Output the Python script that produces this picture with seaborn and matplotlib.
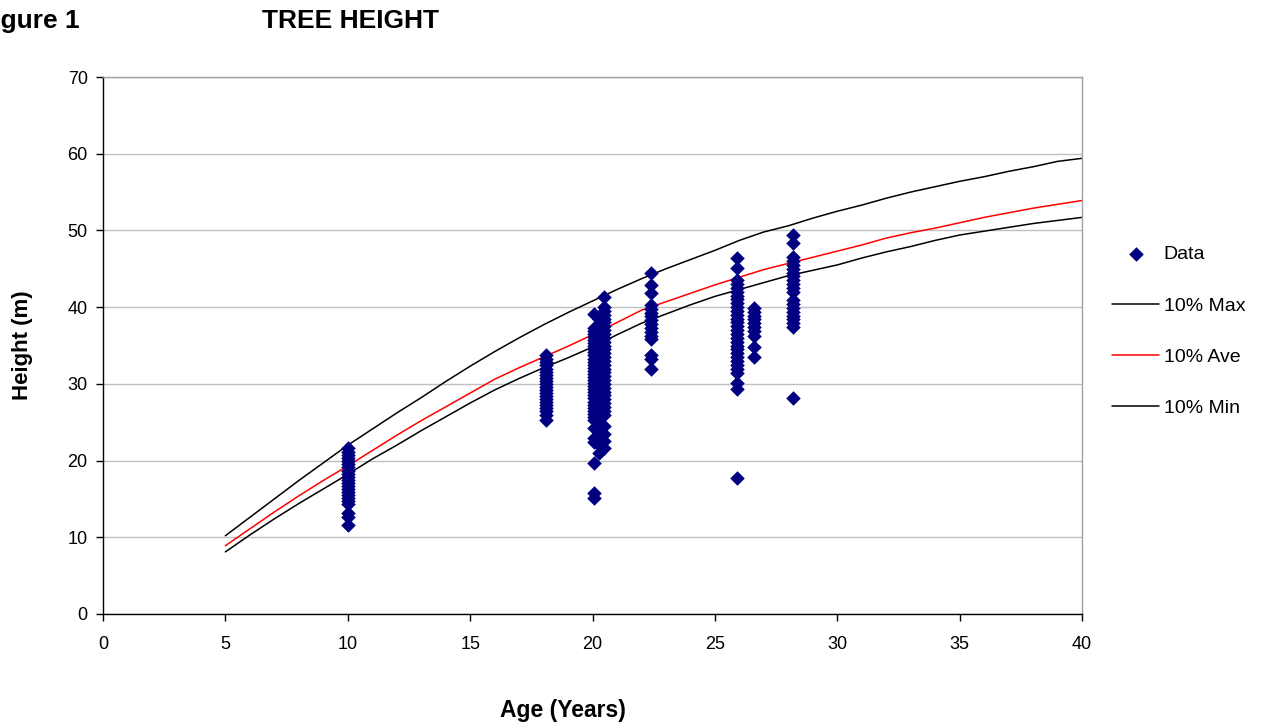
import pandas as pd
import matplotlib
matplotlib.use("Agg")
import matplotlib.pyplot as plt
import seaborn as sns

# ---- data ----
h_age10 = [21.6, 21.1, 20.7, 20.3, 19.9, 19.5, 19.1, 18.7, 18.3, 17.9, 17.5, 17.1,
           16.7, 16.3, 15.9, 15.5, 15.1, 14.7, 14.3, 13.2, 12.6, 11.6]
h_age18 = [33.8, 33.3, 32.8, 32.4, 32.0, 31.6, 31.2, 30.8, 30.4, 30.0, 29.6, 29.2,
           28.8, 28.4, 28.0, 27.6, 27.2, 26.8, 26.4, 26.0, 25.3]
h_age20a = [39.1, 37.3, 36.9, 36.5, 36.1, 35.7, 35.3, 34.9, 34.5, 34.1, 33.7, 33.3,
            32.9, 32.5, 32.1, 31.7, 31.3, 30.9, 30.5, 30.1, 29.7, 29.3, 28.9, 28.5,
            28.1, 27.7, 27.3, 26.9, 26.5, 26.1, 25.7, 25.3, 24.2, 23.0, 22.4, 19.7,
            15.8, 15.1]
h_age20b = [38.5, 37.8, 37.0, 36.2, 35.4, 34.6, 33.8, 33.0, 32.2, 31.4, 30.6, 29.8,
            29.0, 28.2, 27.4, 26.6, 25.8, 25.0, 24.2, 23.4, 22.0, 21.0]
h_age20c = [41.3, 40.0, 39.5, 39.0, 38.5, 38.0, 37.5, 37.0, 36.5, 36.0, 35.5, 35.0,
            34.5, 34.0, 33.5, 33.0, 32.5, 32.0, 31.5, 31.0, 30.5, 30.0, 29.5, 29.0,
            28.5, 28.0, 27.5, 27.0, 26.5, 26.0, 24.5, 23.5, 22.5, 21.7]
h_age22 = [44.4, 42.9, 41.8, 40.3, 39.8, 39.3, 38.8, 38.3, 37.8, 37.3, 36.8, 36.3,
           35.8, 33.8, 33.2, 31.9]
h_age26a = [46.4, 45.1, 43.5, 43.0, 42.5, 42.0, 41.5, 41.0, 40.5, 40.0, 39.5, 39.0,
            38.5, 38.0, 37.5, 37.0, 36.5, 36.0, 35.5, 35.0, 34.5, 34.0, 33.5, 33.0,
            32.5, 32.0, 31.4, 30.1, 29.3, 17.7]
h_age26b = [39.9, 39.4, 38.9, 38.4, 37.9, 37.4, 36.9, 36.3, 34.8, 33.5]
h_age28 = [49.4, 48.4, 46.5, 46.0, 45.5, 45.0, 44.5, 44.0, 43.5, 43.0, 42.5, 42.0,
           40.9, 40.4, 39.9, 39.4, 38.9, 38.4, 37.9, 37.4, 28.2]

cluster_ages = [10.0, 18.1, 20.05, 20.25, 20.45, 22.4, 25.9, 26.6, 28.2]
cluster_heights = [h_age10, h_age18, h_age20a, h_age20b, h_age20c,
                   h_age22, h_age26a, h_age26b, h_age28]

curve_age = list(range(5, 41))
max_10 = [10.2, 12.6, 15.0, 17.4, 19.7, 22.0, 24.1, 26.2, 28.2, 30.3, 32.3, 34.2,
          36.0, 37.7, 39.3, 40.8, 42.3, 43.7, 45.0, 46.2, 47.4, 48.7, 49.8, 50.6,
          51.6, 52.5, 53.3, 54.2, 55.0, 55.7, 56.4, 57.0, 57.7, 58.3, 59.0, 59.4]
ave_10 = [8.9, 11.1, 13.3, 15.4, 17.4, 19.3, 21.3, 23.3, 25.2, 27.0, 28.8, 30.6,
          32.1, 33.5, 34.9, 36.4, 38.0, 39.6, 40.7, 41.8, 42.9, 43.9, 44.9, 45.7,
          46.5, 47.3, 48.1, 49.0, 49.7, 50.3, 51.0, 51.7, 52.3, 52.9, 53.4, 53.9]
min_10 = [8.1, 10.3, 12.4, 14.4, 16.3, 18.2, 20.2, 22.0, 23.9, 25.7, 27.5, 29.2,
          30.7, 32.1, 33.4, 34.8, 36.4, 37.9, 39.1, 40.3, 41.4, 42.3, 43.2, 44.1,
          44.8, 45.5, 46.4, 47.2, 47.9, 48.7, 49.4, 49.9, 50.4, 50.9, 51.3, 51.7]

rows = []
for a, hs in zip(cluster_ages, cluster_heights):
    for h in hs:
        rows.append((a, h))
pts = pd.DataFrame(rows, columns=["age", "height"])

curves = pd.DataFrame({"age": curve_age, "10% Max": max_10,
                       "10% Ave": ave_10, "10% Min": min_10})
curves = curves.melt(id_vars="age", var_name="series", value_name="height")

# ---- plot ----
sns.set_theme(style="white")
plt.rcParams['font.family'] = ['Liberation Sans', 'DejaVu Sans']
plt.rcParams['text.color'] = 'black'
plt.rcParams['axes.labelcolor'] = 'black'

fig = plt.figure(figsize=(12.63, 7.25), dpi=100)
ax = fig.add_axes([103 / 1263, 1 - 614 / 725, (1082 - 103) / 1263, (614 - 77) / 725])

sns.scatterplot(data=pts, x="age", y="height", marker="D", s=55, color="#000080",
                edgecolor="#000080", linewidth=0, ax=ax, label="Data", zorder=3)
sns.lineplot(data=curves, x="age", y="height", hue="series",
             palette={"10% Max": "black", "10% Ave": "red", "10% Min": "black"},
             linewidth=1.1, ax=ax, zorder=2)

ax.set_xlim(0, 40)
ax.set_ylim(0, 70)
ax.set_xticks(range(0, 41, 5))
ax.set_yticks(range(0, 71, 10))
ax.yaxis.grid(True, color="#c0c0c0", linewidth=1)
ax.set_axisbelow(True)
ax.tick_params(axis="both", labelsize=13, direction="out", length=5, width=1,
               colors="black", bottom=True, left=True, pad=6)
ax.tick_params(axis="x", pad=11)
for side in ["left", "bottom"]:
    ax.spines[side].set_color("black")
    ax.spines[side].set_linewidth(1)
for side in ["top", "right"]:
    ax.spines[side].set_color("#a0a0a0")
    ax.spines[side].set_linewidth(1)

ax.set_xlabel("Age (Years)", fontsize=16.5, fontweight="bold")
ax.set_ylabel("Height (m)", fontsize=16, fontweight="bold")
ax.xaxis.set_label_coords(0.47, -0.158)
ax.yaxis.set_label_coords(-0.072, 0.5)

ax.legend(loc="upper left", bbox_to_anchor=(1.023, 0.70), frameon=False,
          fontsize=14, labelspacing=1.72, handlelength=2.4, handletextpad=0.25,
          borderaxespad=0)

fig.text(-23 / 1263, 1 - 28 / 725, "Figure 1", fontsize=19, fontweight="bold")
fig.text(262 / 1263, 1 - 28 / 725, "TREE HEIGHT", fontsize=19, fontweight="bold")

fig.savefig("out.png", dpi=100)
